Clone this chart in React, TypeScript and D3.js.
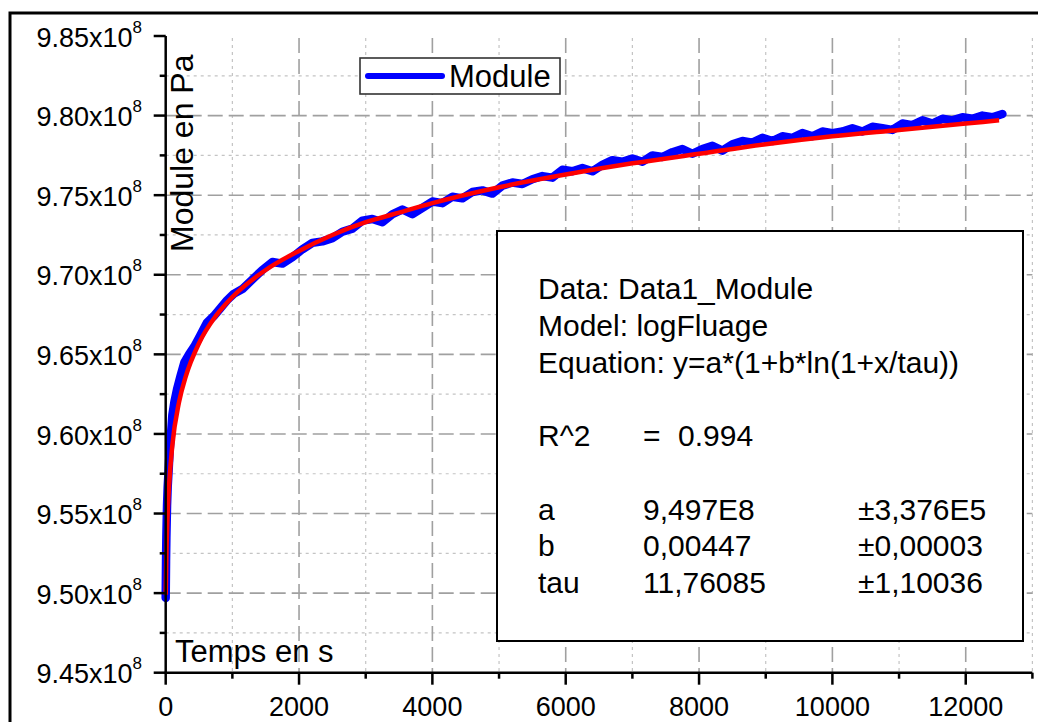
import React from 'react';
import * as d3 from 'd3';

const W = 1038;
const H = 722;

// Axis ticks
const xTickValues = [0, 2000, 4000, 6000, 8000, 10000, 12000];
const xTickLabels = ['0', '2000', '4000', '6000', '8000', '10000', '12000'];
const xMinorValues = [1000, 3000, 5000, 7000, 9000, 11000, 13000];
const yTickValues = [9.45, 9.5, 9.55, 9.6, 9.65, 9.7, 9.75, 9.8, 9.85];
const yTickLabels = ['9.45', '9.50', '9.55', '9.60', '9.65', '9.70', '9.75', '9.80', '9.85'];
const yMinorValues = [9.475, 9.525, 9.575, 9.625, 9.675, 9.725, 9.775, 9.825];
const yGridMajor = [9.5, 9.55, 9.6, 9.65, 9.7, 9.75, 9.8];

// Measured series "Module" (time in s, module in 1e8 Pa)
const moduleTime = [
  0, 5, 10, 20, 30, 45, 60, 80, 100, 130, 170, 220, 280, 350, 430, 520, 620, 720, 820, 920,
  1020, 1150, 1300, 1450, 1600, 1750, 1900, 2050, 2200, 2350, 2500, 2650, 2800, 2950, 3100,
  3250, 3400, 3550, 3700, 3850, 4000, 4150, 4300, 4450, 4600, 4750, 4900, 5050, 5200, 5350,
  5500, 5650, 5800, 5950, 6100, 6250, 6400, 6550, 6700, 6850, 7000, 7150, 7300, 7450, 7600,
  7750, 7900, 8050, 8200, 8350, 8500, 8650, 8800, 8950, 9100, 9250, 9400, 9550, 9700, 9850,
  10000, 10150, 10300, 10450, 10600, 10750, 10900, 11050, 11200, 11350, 11500, 11650, 11800,
  11950, 12100, 12250, 12400, 12550,
];
const moduleValue = [
  9.497, 9.52, 9.535, 9.555, 9.567, 9.578, 9.59, 9.6, 9.612, 9.62, 9.628, 9.636, 9.645, 9.65,
  9.655, 9.662, 9.67, 9.674, 9.679, 9.684, 9.688, 9.691, 9.697, 9.703, 9.708, 9.707, 9.711,
  9.716, 9.72, 9.721, 9.723, 9.727, 9.729, 9.734, 9.735, 9.733, 9.738, 9.741, 9.738, 9.742,
  9.746, 9.745, 9.749, 9.748, 9.752, 9.753, 9.751, 9.756, 9.758, 9.757, 9.76, 9.762, 9.761,
  9.766, 9.765, 9.767, 9.765, 9.769, 9.772, 9.771, 9.773, 9.771, 9.775, 9.774, 9.777, 9.779,
  9.776, 9.779, 9.781, 9.778, 9.782, 9.784, 9.783, 9.786, 9.784, 9.787, 9.786, 9.789, 9.787,
  9.79, 9.789, 9.79, 9.792, 9.79, 9.793, 9.792, 9.791, 9.795, 9.794, 9.797, 9.795, 9.798,
  9.797, 9.799, 9.798, 9.8, 9.799, 9.801,
];

// Fitted curve (logFluage)
const fitTime = [0, 10, 25, 50, 100, 200, 300, 500, 750, 1000, 1500, 2000, 2500, 3000, 3500, 4000, 5000, 6000, 7000, 8000, 9000, 10000, 11000, 12000, 12500];
const fitValue = [9.499, 9.523, 9.545, 9.567, 9.593, 9.62, 9.636, 9.657, 9.674, 9.686, 9.703, 9.715, 9.725, 9.733, 9.739, 9.745, 9.755, 9.763, 9.77, 9.776, 9.782, 9.787, 9.791, 9.795, 9.797];

const statsLines = [
  { label: 'Data: Data1_Module', eq: '', value: '', err: '', row: 0 },
  { label: 'Model: logFluage', eq: '', value: '', err: '', row: 1 },
  { label: 'Equation: y=a*(1+b*ln(1+x/tau))', eq: '', value: '', err: '', row: 2 },
  { label: 'R^2', eq: '=', value: '0.994', err: '', row: 4 },
  { label: 'a', eq: '', value: '9,497E8', err: '±3,376E5', row: 6 },
  { label: 'b', eq: '', value: '0,00447', err: '±0,00003', row: 7 },
  { label: 'tau', eq: '', value: '11,76085', err: '±1,10036', row: 8 },
];

const FONT = "Arial, 'Liberation Sans', Helvetica, sans-serif";

export default function App() {
  const x = d3.scaleLinear().domain([0, 13000]).range([165.7, 1032.4]);
  const y = d3.scaleLinear().domain([9.45, 9.85]).range([672.7, 36]);

  const blueData = moduleTime.map((t, i) => [t, moduleValue[i]] as [number, number]);
  const redData = fitTime.map((t, i) => [t, fitValue[i]] as [number, number]);

  const blueLine = d3
    .line<[number, number]>()
    .x((d) => x(d[0]))
    .y((d) => y(d[1]))
    .curve(d3.curveLinear)(blueData) as string;
  const redLine = d3
    .line<[number, number]>()
    .x((d) => x(d[0]))
    .y((d) => y(d[1]))
    .curve(d3.curveMonotoneX)(redData) as string;

  const x0 = x(0);
  const xEnd = x(13000);
  const yTop = y(9.85);
  const yBot = y(9.45);

  const majorGrid = { stroke: '#a0a0a0', strokeWidth: 1.6, strokeDasharray: '15,6' };
  const minorGrid = { stroke: '#c4c4c4', strokeWidth: 1.2, strokeDasharray: '3,4' };

  return (
    <svg
      width={W}
      height={H}
      style={{ position: 'absolute', left: 0, top: 0, background: '#fff' }}
      fontFamily={FONT}
    >
      <rect x={0} y={0} width={W} height={H} fill="#fff" />
      {/* outer frame */}
      <rect x={10} y={13} width={1200} height={900} fill="none" stroke="#000" strokeWidth={3} />

      {/* grid */}
      <g>
        {xMinorValues.map((v) => (
          <line key={'xm' + v} x1={x(v)} x2={x(v)} y1={yTop + 2} y2={yBot} {...minorGrid} />
        ))}
        {yMinorValues.map((v) => (
          <line key={'ym' + v} x1={x0} x2={xEnd} y1={y(v)} y2={y(v)} {...minorGrid} />
        ))}
        {xTickValues.slice(1).map((v) => (
          <line key={'xM' + v} x1={x(v)} x2={x(v)} y1={yTop + 2} y2={yBot} {...majorGrid} />
        ))}
        {yGridMajor.map((v) => (
          <line key={'yM' + v} x1={x0} x2={xEnd} y1={y(v)} y2={y(v)} {...majorGrid} />
        ))}
      </g>

      {/* data */}
      <path d={blueLine} fill="none" stroke="#0000ff" strokeWidth={8.5} strokeLinejoin="round" strokeLinecap="round" />
      <path d={redLine} fill="none" stroke="#ff0000" strokeWidth={4.5} strokeLinejoin="round" />

      {/* axes */}
      <g stroke="#000" strokeWidth={2.5}>
        <line x1={x0} x2={x0} y1={yTop} y2={yBot + 1} />
        <line x1={x0 - 1} x2={xEnd} y1={yBot} y2={yBot} />
        {yTickValues.map((v) => (
          <line key={'yt' + v} x1={x0 - 12} x2={x0} y1={y(v)} y2={y(v)} />
        ))}
        {yMinorValues.map((v) => (
          <line key={'ytm' + v} x1={x0 - 6} x2={x0} y1={y(v)} y2={y(v)} />
        ))}
        {xTickValues.map((v) => (
          <line key={'xt' + v} x1={x(v)} x2={x(v)} y1={yBot} y2={yBot + 12} />
        ))}
        {xMinorValues.map((v) => (
          <line key={'xtm' + v} x1={x(v)} x2={x(v)} y1={yBot} y2={yBot + 6} />
        ))}
      </g>

      {/* tick labels */}
      <g fill="#000">
        {yTickValues.map((v, i) => (
          <text key={'yl' + v} x={142} y={y(v) + 10.7} textAnchor="end" fontSize={27}>
            {yTickLabels[i] + 'x10'}
            <tspan fontSize={17} dy={-14}>8</tspan>
          </text>
        ))}
        {xTickValues.map((v, i) => (
          <text key={'xl' + v} x={x(v)} y={716} textAnchor="middle" fontSize={27}>
            {xTickLabels[i]}
          </text>
        ))}
      </g>

      {/* axis titles */}
      <text x={175} y={662} fontSize={31} fill="#000">Temps en s</text>
      <text transform="translate(193,252) rotate(-90)" fontSize={32} fill="#000">Module en Pa</text>

      {/* legend */}
      <rect x={360} y={58} width={200} height={36} fill="#fff" stroke="#333" strokeWidth={1.6} />
      <line x1={368} x2={442} y1={76} y2={76} stroke="#0000ff" strokeWidth={6} strokeLinecap="round" />
      <text x={449} y={87} fontSize={31} fill="#000">Module</text>

      {/* stats box */}
      <rect x={497} y={231} width={526} height={410} fill="#fff" stroke="#000" strokeWidth={2} />
      <g fontSize={30} fill="#000">
        {statsLines.map((l) => {
          const by = 299 + l.row * 36.75;
          return (
            <g key={l.label}>
              <text x={538} y={by}>{l.label}</text>
              {l.eq && <text x={643} y={by}>{l.eq}</text>}
              {l.value && <text x={l.eq ? 678 : 643} y={by}>{l.value}</text>}
              {l.err && <text x={858} y={by}>{l.err}</text>}
            </g>
          );
        })}
      </g>
    </svg>
  );
}
